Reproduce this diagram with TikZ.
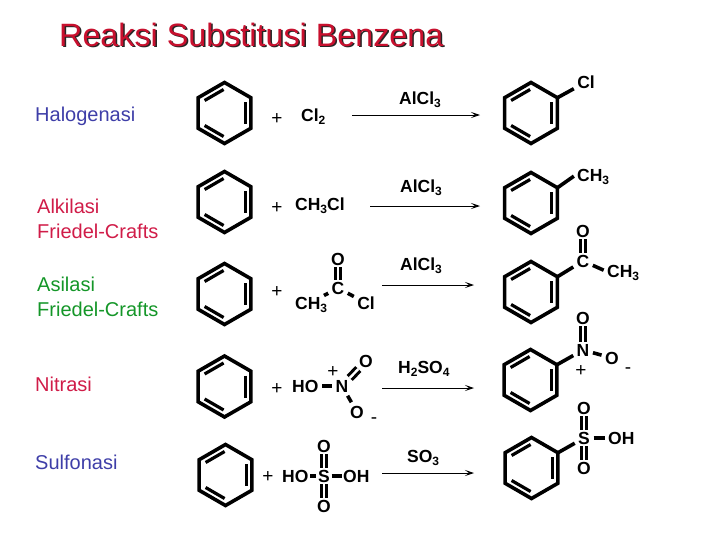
\documentclass[tikz,border=0pt]{standalone}
\usepackage{fontspec}
\setmainfont{Liberation Sans}
\usetikzlibrary{arrows.meta}
\definecolor{titlered}{RGB}{200,16,46}
\definecolor{labblue}{RGB}{62,62,168}
\definecolor{labred}{RGB}{208,28,72}
\definecolor{labgreen}{RGB}{20,150,40}
\def\subs#1{\raisebox{-3.5pt}{\fontsize{12}{12}\selectfont #1}}
\def\shadowed#1{\rlap{\kern1.5pt\raisebox{-1.5pt}{\color{black!85}#1}}{\color{titlered}#1}}
\tikzset{
	ringline/.style={line width=3.6pt,line join=miter},
	ringin/.style={line width=3.2pt,shorten >=1pt,shorten <=1pt},
	benzene/.pic={
		\draw[ringline] (90:30.5) -- (30:30.5) -- (-30:30.5) -- (-90:30.5) -- (-150:30.5) -- (150:30.5) -- cycle;
		\draw[ringin] (-30:24) -- (30:24);
		\draw[ringin] (-150:24) -- (-90:24);
		\draw[ringin] (90:24) -- (150:24);
		\coordinate (-a) at (-30:30.5);
	},
	chem/.style={font=\fontsize{17.5}{17.5}\selectfont\bfseries,text height=12.6pt,text depth=0pt,inner sep=1.5pt},
	plus/.style={font=\fontsize{19}{19}\selectfont,inner sep=0pt},
	lab/.style={font=\fontsize{20}{25}\selectfont,align=left,anchor=west,inner sep=0pt},
	bond/.style={line width=3.6pt,shorten >=2pt,shorten <=2pt},
	rbond/.style={line width=3.6pt,shorten >=2pt},
	dbond/.style={line width=8.5pt,draw=black,postaction={draw=white,line width=2.4pt}},
	arr/.style={-{Stealth[length=9pt,width=6pt,inset=4pt]},line width=0.9pt},
}
\begin{document}
\begin{tikzpicture}[x=1pt,y=-1pt]
\useasboundingbox (0,0) rectangle (728,546);
% JUDUL
\node[font=\fontsize{32.3}{32.3}\selectfont,anchor=base west,inner sep=0pt] (title) at (59,46) {\shadowed{Reaksi Substitusi Benzena}};
% LABEL
\node[lab,labblue] (halo) at (35,116) {Halogenasi};
\node[lab,labred] (alk) at (37,219) {Alkilasi\\Friedel-Crafts};
\node[lab,labgreen] (asil) at (37,297) {Asilasi\\Friedel-Crafts};
\node[lab,labred] (nit) at (35,384) {Nitrasi};
\node[lab,labblue] (sulf) at (35,462) {Sulfonasi};
% CINCIN KIRI
\pic (r1) at (224.5,113) {benzene};
\pic (r2) at (224.5,202) {benzene};
\pic (r3) at (224.5,294) {benzene};
\pic (r4) at (224.5,386.5) {benzene};
\pic (r5) at (225.5,475) {benzene};
% CINCIN KANAN
\pic (p1) at (531,113) {benzene};
\pic (p2) at (531,203) {benzene};
\pic (p3) at (531,292) {benzene};
\pic (p4) at (530.5,380) {benzene};
\pic (p5) at (531.5,468) {benzene};
% PLUS
\node[plus] (plus1) at (277,119) {+};
\node[plus] (plus2) at (277,208) {+};
\node[plus] (plus3) at (277,292) {+};
\node[plus] (plus4) at (277,389) {+};
\node[plus] (plus5) at (268,477) {+};
% HALOGENASI
\node[chem,anchor=west] (cl2) at (299.5,115) {Cl\subs{2}};
\coordinate (a1s) at (352,115);
\coordinate (a1e) at (480,115);
\draw[arr] (a1s) -- (a1e);
\node[chem,anchor=west] (k1) at (397.5,98) {AlCl\subs{3}};
\node[chem] (p1cl) at (586,82) {Cl};
\draw[rbond] (p1-a) -- (p1cl);
% ALKILASI
\node[chem,anchor=west] (mecl) at (293.5,204) {CH\subs{3}Cl};
\coordinate (a2s) at (370,206);
\coordinate (a2e) at (480,206);
\draw[arr] (a2s) -- (a2e);
\node[chem,anchor=west] (k2) at (398.5,186) {AlCl\subs{3}};
\node[chem,anchor=west] (p2me) at (575.5,175) {CH\subs{3}};
\draw[rbond] (p2-a) -- (p2me.west);
% ASILASI
\node[chem] (c3) at (338,288) {C};
\node[chem] (o3) at (338,259) {O};
\node[chem,anchor=west] (me3) at (293.5,303) {CH\subs{3}};
\coordinate (me3b) at (324,295.5);
\node[chem] (cl3) at (366,303) {Cl};
\draw[dbond] (o3) -- (c3);
\draw[bond,shorten >=0pt] (c3) -- (me3b);
\draw[bond] (c3) -- (cl3);
\coordinate (a3s) at (382,285);
\coordinate (a3e) at (474,285);
\draw[arr] (a3s) -- (a3e);
\node[chem,anchor=west] (k3) at (398.5,264) {AlCl\subs{3}};
\node[chem] (pc3) at (583,261) {C};
\node[chem] (po3) at (583,231) {O};
\node[chem,anchor=west] (pme3) at (605.5,271) {CH\subs{3}};
\draw[dbond] (po3) -- (pc3);
\draw[bond] (pc3) -- (pme3.west);
\draw[rbond] (p3-a) -- (pc3);
% NITRASI
\node[chem] (n4) at (342,386) {N};
\node[chem,anchor=west] (ho4) at (290.5,386) {HO};
\node[chem] (o4a) at (366,361) {O};
\node[chem] (o4b) at (357,412) {O};
\node[plus] (pl4) at (333,372) {+};
\node[plus] (mn4) at (374,421) {-};
\draw[bond] (ho4) -- (n4);
\draw[dbond] (n4) -- (o4a);
\draw[bond] (n4) -- (o4b);
\coordinate (a4s) at (382,388);
\coordinate (a4e) at (474,388);
\draw[arr] (a4s) -- (a4e);
\node[chem,anchor=west] (k4) at (396.5,367) {H\subs{2}SO\subs{4}};
\node[chem] (pn4) at (583,350) {N};
\node[chem] (po4a) at (583,318) {O};
\node[chem] (po4b) at (612,358) {O};
\node[plus] (ppl4) at (581,371) {+};
\node[plus] (pmn4) at (628,371) {-};
\draw[dbond] (po4a) -- (pn4);
\draw[bond] (pn4) -- (po4b);
\draw[rbond] (p4-a) -- (pn4);
% SULFONASI
\node[chem] (s5) at (324,476) {S};
\node[chem,anchor=west] (ho5) at (280.5,476) {HO};
\node[chem,anchor=west] (oh5) at (341.5,476) {OH};
\node[chem] (o5a) at (324,446) {O};
\node[chem] (o5b) at (324,506) {O};
\draw[bond,shorten >=0pt,shorten <=0pt] (ho5) -- (s5);
\draw[bond,shorten >=0pt,shorten <=0pt] (s5) -- (oh5);
\draw[dbond] (o5a) -- (s5);
\draw[dbond] (s5) -- (o5b);
\coordinate (a5s) at (382,473);
\coordinate (a5e) at (474,473);
\draw[arr] (a5s) -- (a5e);
\node[chem,anchor=west] (k5) at (405.5,456) {SO\subs{3}};
\node[chem] (ps5) at (584,438) {S};
\node[chem] (po5a) at (584,408) {O};
\node[chem] (po5b) at (584,468) {O};
\node[chem,anchor=west] (poh5) at (606.5,438) {OH};
\draw[dbond] (po5a) -- (ps5);
\draw[dbond] (ps5) -- (po5b);
\draw[bond] (ps5) -- (poh5);
\draw[rbond] (p5-a) -- (ps5);
\end{tikzpicture}
\end{document}
